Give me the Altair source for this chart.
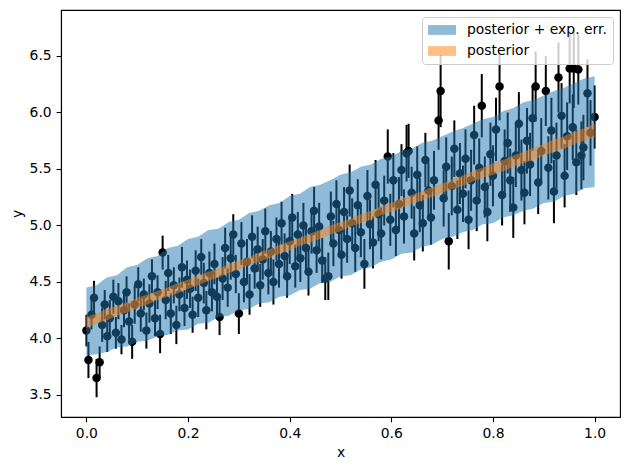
import altair as alt
import pandas as pd

# Observations: x position, measured y and its 1-sigma error
x_obs = [
    0.000, 0.004, 0.010, 0.015, 0.020, 0.026, 0.031, 0.036, 0.041, 0.046,
    0.053, 0.058, 0.063, 0.069, 0.074, 0.079, 0.084, 0.090, 0.095,
    0.102, 0.107, 0.113, 0.118, 0.124, 0.129, 0.135, 0.140, 0.145, 0.150,
    0.156, 0.161, 0.166, 0.172, 0.177, 0.183, 0.188, 0.193, 0.198,
    0.204, 0.209, 0.215, 0.220, 0.226, 0.231, 0.236, 0.242, 0.247,
    0.252, 0.257, 0.262, 0.268, 0.273, 0.278, 0.284, 0.289, 0.294, 0.300,
    0.305, 0.310, 0.316, 0.321, 0.326, 0.331, 0.337, 0.342, 0.347,
    0.352, 0.358, 0.363, 0.368, 0.374, 0.379, 0.384, 0.390, 0.395,
    0.400, 0.405, 0.411, 0.416, 0.421, 0.427, 0.432, 0.437, 0.443, 0.448,
    0.453, 0.458, 0.464, 0.470, 0.476, 0.481, 0.486, 0.492, 0.497,
    0.502, 0.507, 0.513, 0.518, 0.523, 0.529, 0.534, 0.540, 0.547,
    0.553, 0.558, 0.564, 0.569, 0.575, 0.580, 0.586, 0.593, 0.598,
    0.604, 0.609, 0.615, 0.620, 0.625, 0.630, 0.634, 0.640, 0.645,
    0.651, 0.656, 0.662, 0.667, 0.673, 0.678, 0.684, 0.693, 0.697,
    0.703, 0.708, 0.713, 0.719, 0.724, 0.730, 0.735, 0.741, 0.746,
    0.752, 0.757, 0.763, 0.768, 0.773, 0.778, 0.784, 0.789, 0.795,
    0.800, 0.806, 0.813, 0.818, 0.823, 0.829, 0.834, 0.840, 0.845,
    0.851, 0.856, 0.862, 0.867, 0.873, 0.878, 0.884, 0.889, 0.895,
    0.904, 0.909, 0.915, 0.920, 0.925, 0.929, 0.935, 0.941, 0.946,
    0.951, 0.957, 0.959, 0.964, 0.968, 0.974, 0.978, 0.986, 0.992, 1.000,
]
y_obs = [
    4.07, 3.81, 4.21, 4.36, 3.65, 3.79, 4.12, 4.30, 4.02, 4.18,
    4.37, 4.05, 4.33, 3.99, 4.25, 4.41, 4.15, 3.97, 4.30,
    4.48, 4.22, 4.39, 4.07, 4.31, 4.55, 4.18, 4.41, 4.04, 4.76,
    4.34, 4.58, 4.22, 4.47, 4.12, 4.39, 4.63, 4.27, 4.52,
    4.44, 4.21, 4.60, 4.36, 4.72, 4.49, 4.25, 4.58, 4.41,
    4.66, 4.37, 4.19, 4.53, 4.80, 4.45, 4.71, 4.92, 4.57, 4.22,
    4.84, 4.50, 4.68, 4.39, 4.90, 4.62, 4.79, 4.47, 4.70,
    4.95, 4.58, 4.77, 4.50, 4.88, 4.66, 5.02, 4.73, 4.55,
    4.86, 5.07, 4.64, 4.92, 4.71, 5.00, 4.80, 4.59, 4.95, 5.13,
    4.78, 4.99, 4.69, 4.53, 4.55, 5.08, 4.84, 5.19, 4.96,
    4.74, 5.12, 4.88, 5.31, 5.02, 4.80, 5.18, 4.94, 4.66,
    5.26, 5.01, 4.85, 5.36, 5.10, 4.93, 5.22, 5.61, 5.05,
    5.40, 4.96, 5.19, 5.49, 5.08, 5.64, 5.66, 5.29, 4.93,
    5.45, 5.18, 5.02, 5.58, 5.31, 5.07, 5.40, 5.93, 6.19,
    5.24, 5.52, 4.86, 5.35, 5.68, 5.14, 5.46, 5.28, 5.59,
    5.05, 5.40, 5.80, 5.22, 5.51, 6.06, 5.34, 5.12, 5.63,
    5.44, 5.85, 6.23, 5.27, 5.57, 5.73, 5.40, 5.16, 5.62,
    5.90, 5.49, 5.29, 5.75, 5.54, 5.95, 6.23, 5.38, 5.66,
    6.19, 5.51, 5.84, 5.30, 5.62, 6.31, 5.97, 5.44, 5.79,
    6.39, 5.87, 6.39, 5.56, 6.38, 5.62, 5.69, 6.17, 5.82, 5.96,
]
y_err = [
    0.14, 0.16, 0.13, 0.15, 0.17, 0.14, 0.15, 0.13, 0.14, 0.16,
    0.15, 0.14, 0.16, 0.13, 0.15, 0.14, 0.16, 0.15, 0.17,
    0.15, 0.16, 0.14, 0.16, 0.17, 0.15, 0.16, 0.15, 0.17, 0.15,
    0.17, 0.16, 0.18, 0.16, 0.17, 0.15, 0.18, 0.16, 0.17,
    0.17, 0.16, 0.18, 0.17, 0.16, 0.18, 0.17, 0.19, 0.17,
    0.18, 0.17, 0.16, 0.19, 0.18, 0.17, 0.19, 0.18, 0.17, 0.18,
    0.19, 0.18, 0.20, 0.18, 0.19, 0.18, 0.20, 0.19, 0.18,
    0.20, 0.19, 0.18, 0.20, 0.19, 0.21, 0.19, 0.20, 0.19,
    0.20, 0.21, 0.19, 0.20, 0.21, 0.20, 0.19, 0.21, 0.20, 0.21,
    0.20, 0.21, 0.20, 0.19, 0.21, 0.22, 0.20, 0.21, 0.22,
    0.21, 0.22, 0.21, 0.23, 0.22, 0.21, 0.23, 0.22, 0.22,
    0.23, 0.22, 0.23, 0.22, 0.24, 0.23, 0.22, 0.24, 0.23,
    0.24, 0.23, 0.24, 0.23, 0.24, 0.25, 0.24, 0.23, 0.24,
    0.25, 0.24, 0.25, 0.24, 0.25, 0.24, 0.26, 0.26, 0.32,
    0.25, 0.26, 0.25, 0.26, 0.25, 0.26, 0.27, 0.25, 0.26,
    0.26, 0.27, 0.26, 0.27, 0.26, 0.28, 0.27, 0.26, 0.28,
    0.27, 0.28, 0.30, 0.27, 0.28, 0.27, 0.28, 0.27, 0.28,
    0.28, 0.27, 0.28, 0.29, 0.28, 0.29, 0.31, 0.28, 0.29,
    0.31, 0.28, 0.29, 0.28, 0.29, 0.31, 0.29, 0.28, 0.30,
    0.31, 0.29, 0.35, 0.29, 0.31, 0.30, 0.29, 0.30, 0.29, 0.28,
]

# Credible bands evaluated on a regular x grid
grid_x = [
    0.00, 0.02, 0.04, 0.06, 0.08, 0.10, 0.12, 0.14, 0.16, 0.18,
    0.20, 0.22, 0.24, 0.26, 0.28, 0.30, 0.32, 0.34, 0.36, 0.38,
    0.40, 0.42, 0.44, 0.46, 0.48, 0.50, 0.52, 0.54, 0.56, 0.58,
    0.60, 0.62, 0.64, 0.66, 0.68, 0.70, 0.72, 0.74, 0.76, 0.78,
    0.80, 0.82, 0.84, 0.86, 0.88, 0.90, 0.92, 0.94, 0.96, 0.98, 1.00,
]
pred_hi = [
    4.45, 4.47, 4.54, 4.56, 4.63, 4.65, 4.71, 4.73, 4.80, 4.82,
    4.88, 4.90, 4.96, 4.97, 5.03, 5.05, 5.11, 5.13, 5.18, 5.20,
    5.26, 5.28, 5.34, 5.36, 5.40, 5.45, 5.47, 5.52, 5.54, 5.59,
    5.61, 5.66, 5.68, 5.73, 5.75, 5.79, 5.83, 5.86, 5.90, 5.94,
    5.96, 6.01, 6.04, 6.09, 6.11, 6.15, 6.19, 6.22, 6.26, 6.30, 6.32,
]
pred_lo = [
    3.85, 3.86, 3.88, 3.92, 3.93, 3.97, 3.98, 4.02, 4.03, 4.07,
    4.08, 4.13, 4.14, 4.19, 4.20, 4.25, 4.26, 4.31, 4.32, 4.37,
    4.38, 4.43, 4.44, 4.49, 4.50, 4.55, 4.56, 4.61, 4.63, 4.68,
    4.70, 4.75, 4.76, 4.81, 4.83, 4.88, 4.90, 4.94, 4.96, 5.01,
    5.02, 5.07, 5.09, 5.13, 5.15, 5.20, 5.21, 5.26, 5.28, 5.33, 5.34,
]
post_hi = [
    4.19, 4.22, 4.26, 4.29, 4.32, 4.36, 4.39, 4.42, 4.45, 4.49,
    4.52, 4.56, 4.59, 4.62, 4.66, 4.69, 4.72, 4.76, 4.79, 4.83,
    4.86, 4.89, 4.93, 4.96, 5.00, 5.03, 5.06, 5.10, 5.13, 5.17,
    5.20, 5.24, 5.27, 5.30, 5.34, 5.37, 5.41, 5.44, 5.48, 5.51,
    5.55, 5.58, 5.62, 5.65, 5.69, 5.72, 5.76, 5.79, 5.83, 5.86, 5.90,
]
post_lo = [
    4.09, 4.13, 4.16, 4.20, 4.23, 4.27, 4.30, 4.34, 4.37, 4.40,
    4.44, 4.47, 4.51, 4.54, 4.58, 4.61, 4.65, 4.68, 4.71, 4.75,
    4.78, 4.82, 4.85, 4.88, 4.92, 4.95, 4.99, 5.02, 5.05, 5.09,
    5.12, 5.15, 5.19, 5.22, 5.25, 5.29, 5.32, 5.35, 5.39, 5.42,
    5.45, 5.48, 5.52, 5.55, 5.58, 5.62, 5.65, 5.68, 5.72, 5.75, 5.78,
]

band_names = ["posterior + exp. err.", "posterior"]
band_colors = ["#1f77b4", "#ff7f0e"]

x_ticks = [0.0, 0.2, 0.4, 0.6, 0.8, 1.0]
y_ticks = [3.5, 4.0, 4.5, 5.0, 5.5, 6.0, 6.5]

obs = pd.DataFrame({"x": x_obs, "y": y_obs, "err": y_err})
obs["lo"] = obs["y"] - obs["err"]
obs["hi"] = obs["y"] + obs["err"]

grid = pd.DataFrame({
    "x": grid_x,
    "pred_lo": pred_lo, "pred_hi": pred_hi,
    "post_lo": post_lo, "post_hi": post_hi,
})

xs = alt.Scale(domain=[-0.05, 1.05], nice=False, zero=False)
ys = alt.Scale(domain=[3.305, 6.907], nice=False, zero=False)

x_enc = alt.X("x:Q", scale=xs,
              axis=alt.Axis(values=x_ticks, format=".1f", title="x", grid=False))
color_enc = alt.Color(
    "band:N",
    scale=alt.Scale(domain=band_names, range=band_colors),
    legend=alt.Legend(
        title=None,
        orient="top-right",
        offset=7,
        padding=6,
        fillColor="rgba(255,255,255,0.8)",
        strokeColor="#cccccc",
        cornerRadius=3,
        labelFont="DejaVu Sans",
        labelFontSize=13.9,
        labelColor="black",
        symbolType="M-1,-0.7H3V0.7H-1Z",
        symbolSize=196,
        symbolOpacity=0.5,
        symbolStrokeWidth=0,
        labelOffset=25,
        rowPadding=7,
    ),
)

# error bars first, markers on them, then the translucent bands on top
bars = alt.Chart(obs).mark_rule(color="black", strokeWidth=2).encode(
    x=x_enc,
    y=alt.Y("lo:Q", scale=ys,
            axis=alt.Axis(values=y_ticks, format=".1f", title="y", grid=False)),
    y2="hi:Q",
)

dots = alt.Chart(obs).mark_circle(color="black", opacity=1, size=72).encode(
    x="x:Q",
    y="y:Q",
)

pred_band = (
    alt.Chart(grid)
    .transform_calculate(band="'posterior + exp. err.'")
    .mark_area(opacity=0.5)
    .encode(x="x:Q", y="pred_lo:Q", y2="pred_hi:Q", color=color_enc)
)

post_band = (
    alt.Chart(grid)
    .transform_calculate(band="'posterior'")
    .mark_area(opacity=0.5)
    .encode(x="x:Q", y="post_lo:Q", y2="post_hi:Q", color=color_enc)
)

chart = (
    alt.layer(bars, dots, pred_band, post_band)
    .properties(
        width=559,
        height=407,
        padding={"left": 61, "top": 10, "right": 10, "bottom": 53},
        autosize=alt.AutoSizeParams(type="none"),
    )
    .configure_view(stroke="black", strokeWidth=1.1, fill="white")
    .configure_axis(
        labelFont="DejaVu Sans",
        labelFontSize=13.9,
        labelColor="black",
        titleFont="DejaVu Sans",
        titleFontSize=13.9,
        titleFontWeight="normal",
        titleColor="black",
        titlePadding=5,
        domainColor="black",
        domainWidth=1.1,
        tickColor="black",
        tickWidth=1.1,
        tickSize=4.9,
        labelPadding=4.9,
        grid=False,
    )
)

chart.save("out.html", embed_options={"renderer": "svg", "actions": False})
